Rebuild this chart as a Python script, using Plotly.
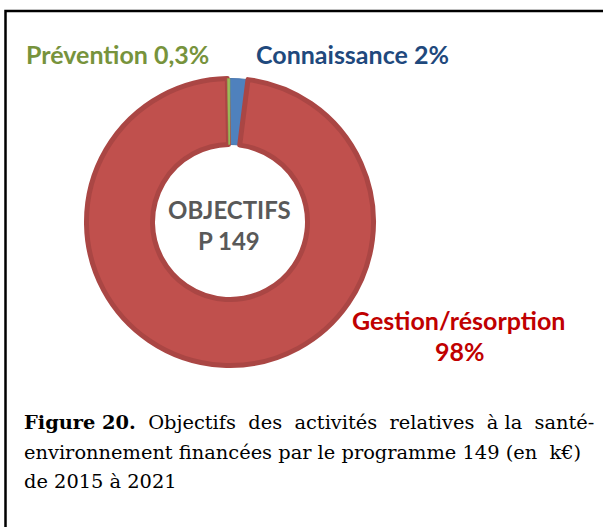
import plotly.graph_objects as go

W, H = 603, 527

# ---- data ----
categories = ["Connaissance", "Gestion/résorption", "Prévention"]
values = [2.0, 97.7, 0.3]
pct_labels = ["2%", "98%", "0,3%"]
center_lines = ["OBJECTIFS", "P 149"]
caption_bold = "Figure 20."
NB = "\u00a0"
caption_lines = [
    f"  Objectifs {NB}des {NB}activités {NB}relatives {NB}à la {NB}santé-",
    "environnement financées par le programme 149 (en  k€)",
    "de 2015 à 2021",
]

fill_colors = ["#4F81BD", "#C0504D", "#9BBB59"]
line_colors = ["#4A78B0", "#AA4644", "#8FB050"]
line_widths = [1, 5, 0.5]
label_colors = ["#1F497D", "#C00000", "#77933C"]


def px(x):
    return x / W


def py(y):
    return 1 - y / H


cx, cy, r = 230, 222, 143.5

fig = go.Figure(
    go.Pie(
        labels=categories,
        values=values,
        sort=False,
        direction="clockwise",
        rotation=0,
        hole=0.54,
        textinfo="none",
        hoverinfo="label+percent",
        marker=dict(colors=fill_colors, line=dict(color=line_colors, width=line_widths)),
        domain=dict(x=[px(cx - r), px(cx + r)], y=[py(cy + r), py(cy - r)]),
        showlegend=False,
    )
)

lab_font = "Lato, 'Open Sans', sans-serif"
LS = 25
annotations = []
annotations.append(dict(x=px(24), y=py(54), xanchor="left", yanchor="middle",
                        text=f"<b>{categories[2]} {pct_labels[2]}</b>",
                        font=dict(family=lab_font, size=LS, color=label_colors[2])))
annotations.append(dict(x=px(254), y=py(54), xanchor="left", yanchor="middle",
                        text=f"<b>{categories[0]} {pct_labels[0]}</b>",
                        font=dict(family=lab_font, size=LS, color=label_colors[0])))
annotations.append(dict(x=px(458), y=py(320), xanchor="center", yanchor="middle",
                        text=f"<b>{categories[1]}</b>",
                        font=dict(family=lab_font, size=LS, color=label_colors[1])))
annotations.append(dict(x=px(460), y=py(351), xanchor="center", yanchor="middle",
                        text=f"<b>{pct_labels[1]}</b>",
                        font=dict(family=lab_font, size=LS, color=label_colors[1])))
for i, t in enumerate(center_lines):
    annotations.append(dict(x=px(229), y=py(209 + 32 * i), xanchor="center", yanchor="middle",
                            text=f"<b>{t}</b>",
                            font=dict(family=lab_font, size=24, color="#595959")))
cap_font = "'DejaVu Serif', serif"
cap_y = [422, 452, 481]
for i, t in enumerate(caption_lines):
    txt = (f"<b>{caption_bold}</b>" + t) if i == 0 else t
    annotations.append(dict(x=px(22), y=py(cap_y[i]), xanchor="left", yanchor="middle",
                            text=txt, font=dict(family=cap_font, size=19.4, color="#000000")))

for a in annotations:
    a.update(xref="paper", yref="paper", showarrow=False)

fig.update_layout(
    width=W, height=H,
    margin=dict(l=0, r=0, t=0, b=0),
    paper_bgcolor="white", plot_bgcolor="white",
    annotations=annotations,
    shapes=[
        dict(type="path", xref="paper", yref="paper",
             path=f"M {px(5.5)} {py(530)} L {px(5.5)} {py(11)} L {px(606)} {py(11)}",
             line=dict(color="black", width=2.5)),
    ],
)

fig.write_html("out.html", config={"displayModeBar": False},
               post_script="document.body.style.margin='0';document.body.style.overflow='hidden';")
